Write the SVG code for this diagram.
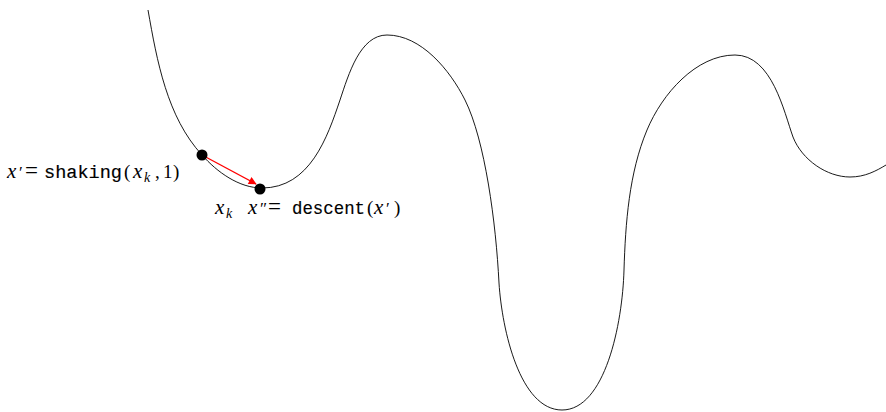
<svg xmlns="http://www.w3.org/2000/svg" width="886" height="412" viewBox="0 0 886 412">
<style>
.curve{fill:none;stroke:#000;stroke-width:0.9}
.dot{fill:#000}
.m{font-family:"Liberation Serif","DejaVu Serif",serif;font-size:19px;fill:#000}
.i{font-style:italic;font-size:21px}
.eq{font-size:23px}
.pr{font-size:17px}
.tt{font-family:"Liberation Mono","DejaVu Sans Mono",monospace;font-size:18px;fill:#000;stroke:#000;stroke-width:0.15}
.sub{font-size:14px;font-style:italic}
</style>
<defs>
<marker id="ah" viewBox="0 0 10 10" refX="9" refY="5" markerWidth="11" markerHeight="8" markerUnits="userSpaceOnUse" orient="auto">
<path d="M0,0 L10,5 L0,10 z" fill="#f00"/>
</marker>
</defs>
<rect width="886" height="412" fill="#fff"/>
<g id="landscape">
<path class="curve" d="M148,10 C157,61 167,117 202,155 C217,172 239,188 262,188 C310,188 327.5,137 340,100 C348.6,74.4 360,35 387,35 C421,35 450,70 465,100 C485,140 496,223 499,283 C502,330 520,410 562,410 C605,410 622.5,324 624,270 C625.5,223 629,173 647,130 C662,94 696,55 735,55 C772,55 784,112 793,137 C802,160 827,177 850,177 C865,177 876,171 886,165"/>
</g>
<g id="connectors">
<line x1="202" y1="155" x2="256" y2="184" stroke="#f00" stroke-width="1.3" marker-end="url(#ah)"/>
</g>
<g id="x-prime">
<circle class="dot" cx="202" cy="155" r="5.5"/>
<text class="m" y="178"><tspan class="i" x="7">x</tspan><tspan class="pr" x="19">′</tspan><tspan class="eq" x="25">=</tspan></text>
<text class="tt" x="44" y="178" textLength="78" lengthAdjust="spacingAndGlyphs">shaking</text>
<text class="m" y="178"><tspan x="124">(</tspan><tspan class="i" x="133">x</tspan><tspan class="sub" x="144" dy="4">k</tspan><tspan x="155" dy="-4">,</tspan><tspan x="163">1</tspan><tspan x="173">)</tspan></text>
</g>
<g id="x-k">
<circle class="dot" cx="260" cy="189" r="5.5"/>
<text class="m" y="214"><tspan class="i" x="215">x</tspan><tspan class="sub" x="226" dy="4">k</tspan></text>
</g>
<g id="x-double-prime">
<text class="m" y="214"><tspan class="i" x="248">x</tspan><tspan class="pr" x="260">″</tspan><tspan class="eq" x="268">=</tspan></text>
<text class="tt" x="292" y="214" textLength="73" lengthAdjust="spacingAndGlyphs">descent</text>
<text class="m" y="214"><tspan x="367">(</tspan><tspan class="i" x="374">x</tspan><tspan class="pr" x="386">′</tspan><tspan x="394">)</tspan></text>
</g>
</svg>
